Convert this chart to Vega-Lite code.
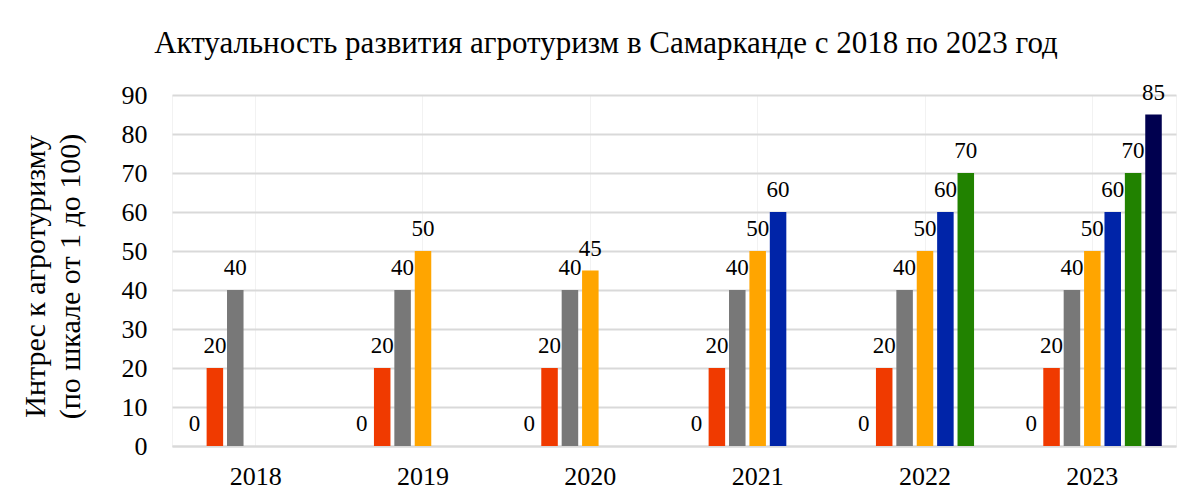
{
  "$schema": "https://vega.github.io/schema/vega-lite/v6.json",
  "width": 1004,
  "height": 351,
  "autosize": {"type": "none"},
  "padding": {"left": 172, "top": 95, "right": 13, "bottom": 53},
  "background": "white",
  "title": {
    "text": "Актуальность развития агротуризм в Самарканде с 2018 по 2023 год",
    "font": "Liberation Serif",
    "fontSize": 31,
    "fontWeight": "normal",
    "color": "black",
    "anchor": "middle",
    "frame": "group",
    "baseline": "alphabetic",
    "offset": -2,
    "dx": -68
  },
  "data": {
    "values": [
      {"year": "2018", "series": "s0", "value": 0},
      {"year": "2018", "series": "s1", "value": 20},
      {"year": "2018", "series": "s2", "value": 40},
      {"year": "2019", "series": "s0", "value": 0},
      {"year": "2019", "series": "s1", "value": 20},
      {"year": "2019", "series": "s2", "value": 40},
      {"year": "2019", "series": "s3", "value": 50},
      {"year": "2020", "series": "s0", "value": 0},
      {"year": "2020", "series": "s1", "value": 20},
      {"year": "2020", "series": "s2", "value": 40},
      {"year": "2020", "series": "s3", "value": 45},
      {"year": "2021", "series": "s0", "value": 0},
      {"year": "2021", "series": "s1", "value": 20},
      {"year": "2021", "series": "s2", "value": 40},
      {"year": "2021", "series": "s3", "value": 50},
      {"year": "2021", "series": "s4", "value": 60},
      {"year": "2022", "series": "s0", "value": 0},
      {"year": "2022", "series": "s1", "value": 20},
      {"year": "2022", "series": "s2", "value": 40},
      {"year": "2022", "series": "s3", "value": 50},
      {"year": "2022", "series": "s4", "value": 60},
      {"year": "2022", "series": "s5", "value": 70},
      {"year": "2023", "series": "s0", "value": 0},
      {"year": "2023", "series": "s1", "value": 20},
      {"year": "2023", "series": "s2", "value": 40},
      {"year": "2023", "series": "s3", "value": 50},
      {"year": "2023", "series": "s4", "value": 60},
      {"year": "2023", "series": "s5", "value": 70},
      {"year": "2023", "series": "s6", "value": 85}
    ]
  },
  "encoding": {
    "x": {
      "field": "year",
      "type": "nominal",
      "scale": {"paddingInner": 0.17, "paddingOuter": 0.085},
      "axis": {
        "title": null,
        "labelAngle": 0,
        "labelFont": "Liberation Serif",
        "labelFontSize": 26,
        "labelColor": "black",
        "labelPadding": 17,
        "ticks": false,
        "domainColor": "#d9d9d9",
        "domainWidth": 2,
        "grid": true,
        "gridColor": "#f2f2f2",
        "gridWidth": 1
      }
    },
    "xOffset": {
      "field": "series",
      "type": "nominal",
      "scale": {"domain": ["s0", "s1", "s2", "s3", "s4", "s5", "s6"], "paddingInner": 0.19, "paddingOuter": 0}
    },
    "y": {
      "field": "value",
      "type": "quantitative",
      "scale": {"domain": [0, 90], "nice": false},
      "axis": {
        "values": [0, 10, 20, 30, 40, 50, 60, 70, 80, 90],
        "title": ["Интрес к агротуризму", "(по шкале от 1 до 100)"],
        "titleFont": "Liberation Serif",
        "titleFontSize": 30,
        "titleFontWeight": "normal",
        "titleColor": "black",
        "titleAngle": -90,
        "titleAlign": "center",
        "titleBaseline": "middle",
        "titleLineHeight": 35,
        "titleX": -137,
        "titleY": 181,
        "labelFont": "Liberation Serif",
        "labelFontSize": 26,
        "labelColor": "black",
        "labelPadding": 25,
        "ticks": false,
        "domain": false,
        "gridColor": "#d9d9d9",
        "gridWidth": 2
      }
    }
  },
  "layer": [
    {
      "mark": {"type": "bar"},
      "encoding": {
        "color": {
          "field": "series",
          "type": "nominal",
          "scale": {
            "domain": ["s0", "s1", "s2", "s3", "s4", "s5", "s6"],
            "range": ["#ffffff", "#f03a00", "#787878", "#ffa500", "#0024a8", "#218200", "#00004f"]
          },
          "legend": null
        }
      }
    },
    {
      "mark": {"type": "text", "font": "Liberation Serif", "fontSize": 23, "color": "black", "baseline": "alphabetic", "dy": -15},
      "encoding": {"text": {"field": "value", "type": "quantitative"}}
    }
  ],
  "config": {
    "font": "Liberation Serif",
    "view": {"stroke": "#f2f2f2"}
  }
}
